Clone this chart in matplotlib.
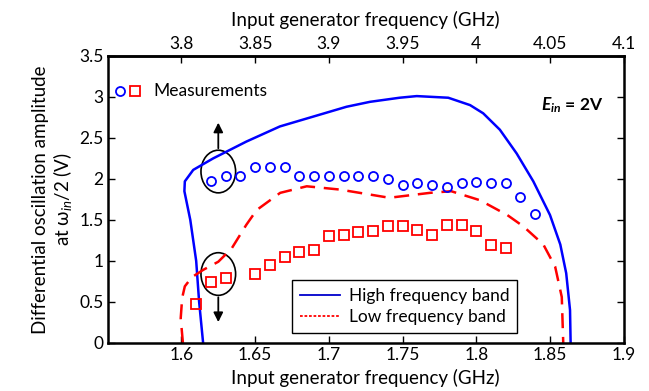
import matplotlib.pyplot as plt
from matplotlib.lines import Line2D
from matplotlib.patches import Ellipse

plt.rcParams['font.family'] = ['Lato', 'DejaVu Sans']
plt.rcParams['mathtext.fontset'] = 'custom'
plt.rcParams['mathtext.rm'] = 'Lato'
plt.rcParams['mathtext.it'] = 'Lato:italic'
plt.rcParams['mathtext.bf'] = 'Lato:bold'
plt.rcParams['mathtext.bfit'] = 'Lato:bold:italic'

# measured points (GHz, V)
meas_f = [1.62, 1.63, 1.64, 1.65, 1.66, 1.67, 1.68, 1.69, 1.70, 1.71, 1.72, 1.73,
          1.74, 1.75, 1.76, 1.77, 1.78, 1.79, 1.80, 1.81, 1.82, 1.83, 1.84]
meas_high = [1.98, 2.04, 2.04, 2.15, 2.15, 2.14, 2.04, 2.04, 2.04, 2.04, 2.04, 2.04,
             2.00, 1.93, 1.955, 1.93, 1.90, 1.95, 1.96, 1.95, 1.95, 1.78, 1.57]
meas_low_f = [1.61, 1.62, 1.63, 1.65, 1.66, 1.67, 1.68, 1.69, 1.70, 1.71, 1.72, 1.73,
              1.74, 1.75, 1.76, 1.77, 1.78, 1.79, 1.80, 1.81, 1.82]
meas_low = [0.47, 0.74, 0.79, 0.84, 0.95, 1.05, 1.11, 1.13, 1.30, 1.32, 1.35, 1.37,
            1.43, 1.43, 1.38, 1.32, 1.44, 1.44, 1.37, 1.20, 1.16]

# simulated curves
high_f = [1.6147, 1.612, 1.610, 1.606, 1.602, 1.6023, 1.608, 1.6215, 1.644, 1.6668,
          1.6894, 1.712, 1.7279, 1.748, 1.7596, 1.781, 1.7958, 1.8047, 1.816, 1.8274,
          1.8387, 1.85, 1.857, 1.861, 1.8636, 1.864]
high_v = [0.0, 0.5, 1.0, 1.5, 1.85, 1.97, 2.11, 2.25, 2.455, 2.64,
          2.76, 2.88, 2.94, 2.99, 3.01, 2.99, 2.90, 2.80, 2.60, 2.31,
          1.97, 1.56, 1.2, 0.85, 0.40, 0.0]
low_f = [1.601, 1.5995, 1.6005, 1.6023, 1.607, 1.6147, 1.625, 1.634, 1.644, 1.651,
         1.667, 1.685, 1.7075, 1.741, 1.7686, 1.783, 1.8025, 1.821, 1.832, 1.8455,
         1.8535, 1.858, 1.859]
low_v = [0.0, 0.3, 0.55, 0.69, 0.80, 0.89, 0.99, 1.15, 1.44, 1.62,
         1.83, 1.91, 1.87, 1.77, 1.83, 1.85, 1.74, 1.56, 1.42, 1.20,
         0.93, 0.56, 0.0]

x_ticks = [1.6, 1.65, 1.7, 1.75, 1.8, 1.85, 1.9]
top_ticks = [3.8, 3.85, 3.9, 3.95, 4.0, 4.05, 4.1]
y_ticks = [0, 0.5, 1, 1.5, 2, 2.5, 3, 3.5]

fig = plt.figure(figsize=(6.49, 3.91), dpi=100)
ax = fig.add_axes([0.166, 0.123, 0.795, 0.734])

ax.plot(high_f, high_v, color='#0000ff', lw=1.8)
ax.plot(low_f, low_v, color='#ff0000', lw=1.8, dashes=(6, 3.5))
ax.plot(meas_f, meas_high, 'o', ms=6.5, mfc='none', mec='#0000ff', mew=1.3)
ax.plot(meas_low_f, meas_low, 's', ms=6.5, mfc='none', mec='#ff0000', mew=1.3)

# ellipses and arrows
ax.add_patch(Ellipse((1.625, 2.09), 0.0235, 0.52, fill=False, ec='black', lw=1.2))
ax.add_patch(Ellipse((1.625, 0.84), 0.0235, 0.52, fill=False, ec='black', lw=1.2))
ax.annotate('', xy=(1.625, 2.72), xytext=(1.625, 2.34),
            arrowprops=dict(arrowstyle='-|>', color='black', lw=1.3, mutation_scale=14))
ax.annotate('', xy=(1.625, 0.22), xytext=(1.625, 0.59),
            arrowprops=dict(arrowstyle='-|>', color='black', lw=1.3, mutation_scale=14))

ax.set_xlim(1.55, 1.9)
ax.set_ylim(0, 3.5)
ax.set_xticks(x_ticks)
ax.set_xticklabels(['1.6', '1.65', '1.7', '1.75', '1.8', '1.85', '1.9'])
ax.set_yticks(y_ticks)
ax.set_yticklabels(['0', '0.5', '1', '1.5', '2', '2.5', '3', '3.5'])
ax.tick_params(direction='in', length=5, width=1, labelsize=12.5, right=True, pad=3)
for s in ax.spines.values():
    s.set_linewidth(1.8)
ax.set_xlabel('Input generator frequency (GHz)', fontsize=13.5, labelpad=4)
ax.set_ylabel('Differential oscillation amplitude\nat ω$_{in}$/2 (V)', fontsize=13.5,
              labelpad=4, linespacing=1.1)

top = ax.secondary_xaxis('top', functions=(lambda x: x + 2.2, lambda x: x - 2.2))
top.set_xticks(top_ticks)
top.set_xticklabels(['3.8', '3.85', '3.9', '3.95', '4', '4.05', '4.1'])
top.tick_params(direction='in', length=5, width=1, labelsize=12.5, pad=3)
top.spines['top'].set_linewidth(1.8)
top.set_xlabel('Input generator frequency (GHz)', fontsize=13.5, labelpad=7)

# measurements key
ax.plot([1.5585], [3.07], 'o', ms=6.5, mfc='none', mec='#0000ff', mew=1.3)
ax.plot([1.5685], [3.07], 's', ms=6.5, mfc='none', mec='#ff0000', mew=1.3)
ax.text(1.581, 3.07, 'Measurements', fontsize=12.5, va='center')
ax.text(1.886, 2.9, r'$\mathbfit{E}_{\mathbfit{in}}$ = 2V', fontsize=12.5,
        fontweight='bold', ha='right', va='center')

handles = [Line2D([], [], color='#0000cc', lw=1.3),
           Line2D([], [], color='#ff0000', lw=1.3, dashes=(1.5, 1))]
ax.legend(handles, ['High frequency band', 'Low frequency band'], loc='lower right',
          bbox_to_anchor=(0.81, 0.005), fontsize=12.5, frameon=True, fancybox=False,
          edgecolor='black', framealpha=1, handlelength=2.3, borderpad=0.45,
          labelspacing=0.3, handletextpad=0.5)

fig.savefig('out.png', dpi=100)
